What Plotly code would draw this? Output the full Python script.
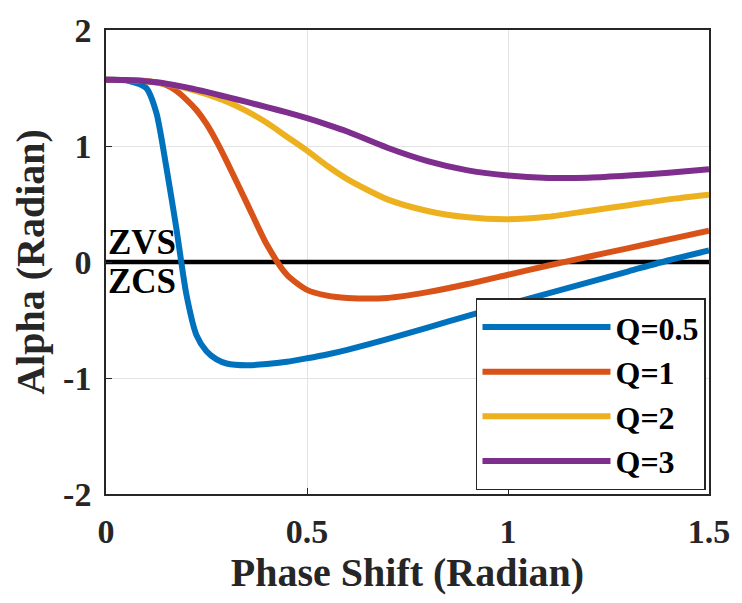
import plotly.graph_objects as go

phase = [0, 0.05, 0.1, 0.125, 0.15, 0.175, 0.2, 0.225, 0.25, 0.275, 0.3, 0.35, 0.4,
         0.45, 0.5, 0.55, 0.6, 0.7, 0.8, 0.9, 1.0, 1.1, 1.2, 1.3, 1.4, 1.5]

alpha_q05 = [1.571, 1.566, 1.50, 1.29, 0.82, 0.29, -0.28, -0.63, -0.77, -0.84, -0.875, -0.89, -0.88,
             -0.86, -0.83, -0.797, -0.757, -0.665, -0.565, -0.465, -0.365, -0.27, -0.175, -0.08, 0.015, 0.10]
alpha_q1 = [1.571, 1.569, 1.56, 1.548, 1.525, 1.475, 1.40, 1.31, 1.19, 1.04, 0.87, 0.51, 0.15,
            -0.11, -0.24, -0.29, -0.31, -0.31, -0.26, -0.19, -0.11, -0.03, 0.045, 0.12, 0.195, 0.27]
alpha_q2 = [1.571, 1.568, 1.558, 1.548, 1.535, 1.518, 1.497, 1.473, 1.446, 1.416, 1.383, 1.30, 1.20,
            1.08, 0.96, 0.83, 0.715, 0.54, 0.44, 0.385, 0.368, 0.39, 0.44, 0.49, 0.54, 0.58]
alpha_q3 = [1.571, 1.568, 1.558, 1.549, 1.537, 1.522, 1.505, 1.486, 1.466, 1.445, 1.423, 1.38, 1.335,
            1.29, 1.24, 1.185, 1.125, 0.985, 0.87, 0.79, 0.745, 0.725, 0.727, 0.745, 0.77, 0.80]

series_names = ["Q=0.5", "Q=1", "Q=2", "Q=3"]
series_values = [alpha_q05, alpha_q1, alpha_q2, alpha_q3]
colors = ["#0072BD", "#D95319", "#EDB120", "#7E2F8E"]

boundary_x = [0, 1.5]
boundary_y = [0, 0]

FONT = "Liberation Serif"

fig = go.Figure()
fig.add_trace(go.Scatter(x=boundary_x, y=boundary_y, mode="lines",
                         line=dict(color="black", width=4.5), showlegend=False,
                         hoverinfo="skip", cliponaxis=False))
for name, vals, c in zip(series_names, series_values, colors):
    fig.add_trace(go.Scatter(x=phase, y=vals, mode="lines", name=name,
                             line=dict(color=c, width=6, shape="spline", smoothing=0.7)))

axis_common = dict(
    showline=True, linecolor="#262626", linewidth=1.5, mirror=True,
    ticks="inside", ticklen=6, tickcolor="#262626", tickwidth=1.2,
    showgrid=True, gridcolor="#e3e3e3", gridwidth=1, zeroline=False,
    tickfont=dict(family=FONT, size=34, color="#262626", weight="bold"),
)

fig.update_layout(
    width=742, height=603,
    margin=dict(l=106, r=27, t=21, b=109),
    paper_bgcolor="white", plot_bgcolor="white",
    xaxis=dict(range=[0, 1.5], tickvals=[0, 0.5, 1, 1.5], ticktext=["0", "0.5", "1", "1.5"],
               title=dict(text="Phase Shift (Radian)", standoff=8,
                          font=dict(family=FONT, size=40, color="#262626", weight="bold")),
               ticklabelstandoff=6, **axis_common),
    yaxis=dict(range=[-2, 2], tickvals=[-2, -1, 0, 1, 2], ticktext=["-2", "-1", "0", "1", "2"],
               title=dict(text="Alpha (Radian)", standoff=6,
                          font=dict(family=FONT, size=40, color="#262626", weight="bold")),
               ticklabelstandoff=6, **axis_common),
    legend=dict(x=0.995, y=0.008, xanchor="right", yanchor="bottom",
                bgcolor="white", bordercolor="#262626", borderwidth=1.5,
                font=dict(family=FONT, size=32, color="black", weight="bold"),
                itemwidth=128, tracegroupgap=0),
    annotations=[
        dict(x=0, y=0, xref="x", yref="y", text="ZVS", showarrow=False,
             xanchor="left", yanchor="bottom", xshift=0, yshift=-2,
             font=dict(family=FONT, size=35, color="black", weight="bold")),
        dict(x=0, y=0, xref="x", yref="y", text="ZCS", showarrow=False,
             xanchor="left", yanchor="top", xshift=0, yshift=2,
             font=dict(family=FONT, size=35, color="black", weight="bold")),
    ],
)

fig.write_html("out.html")
